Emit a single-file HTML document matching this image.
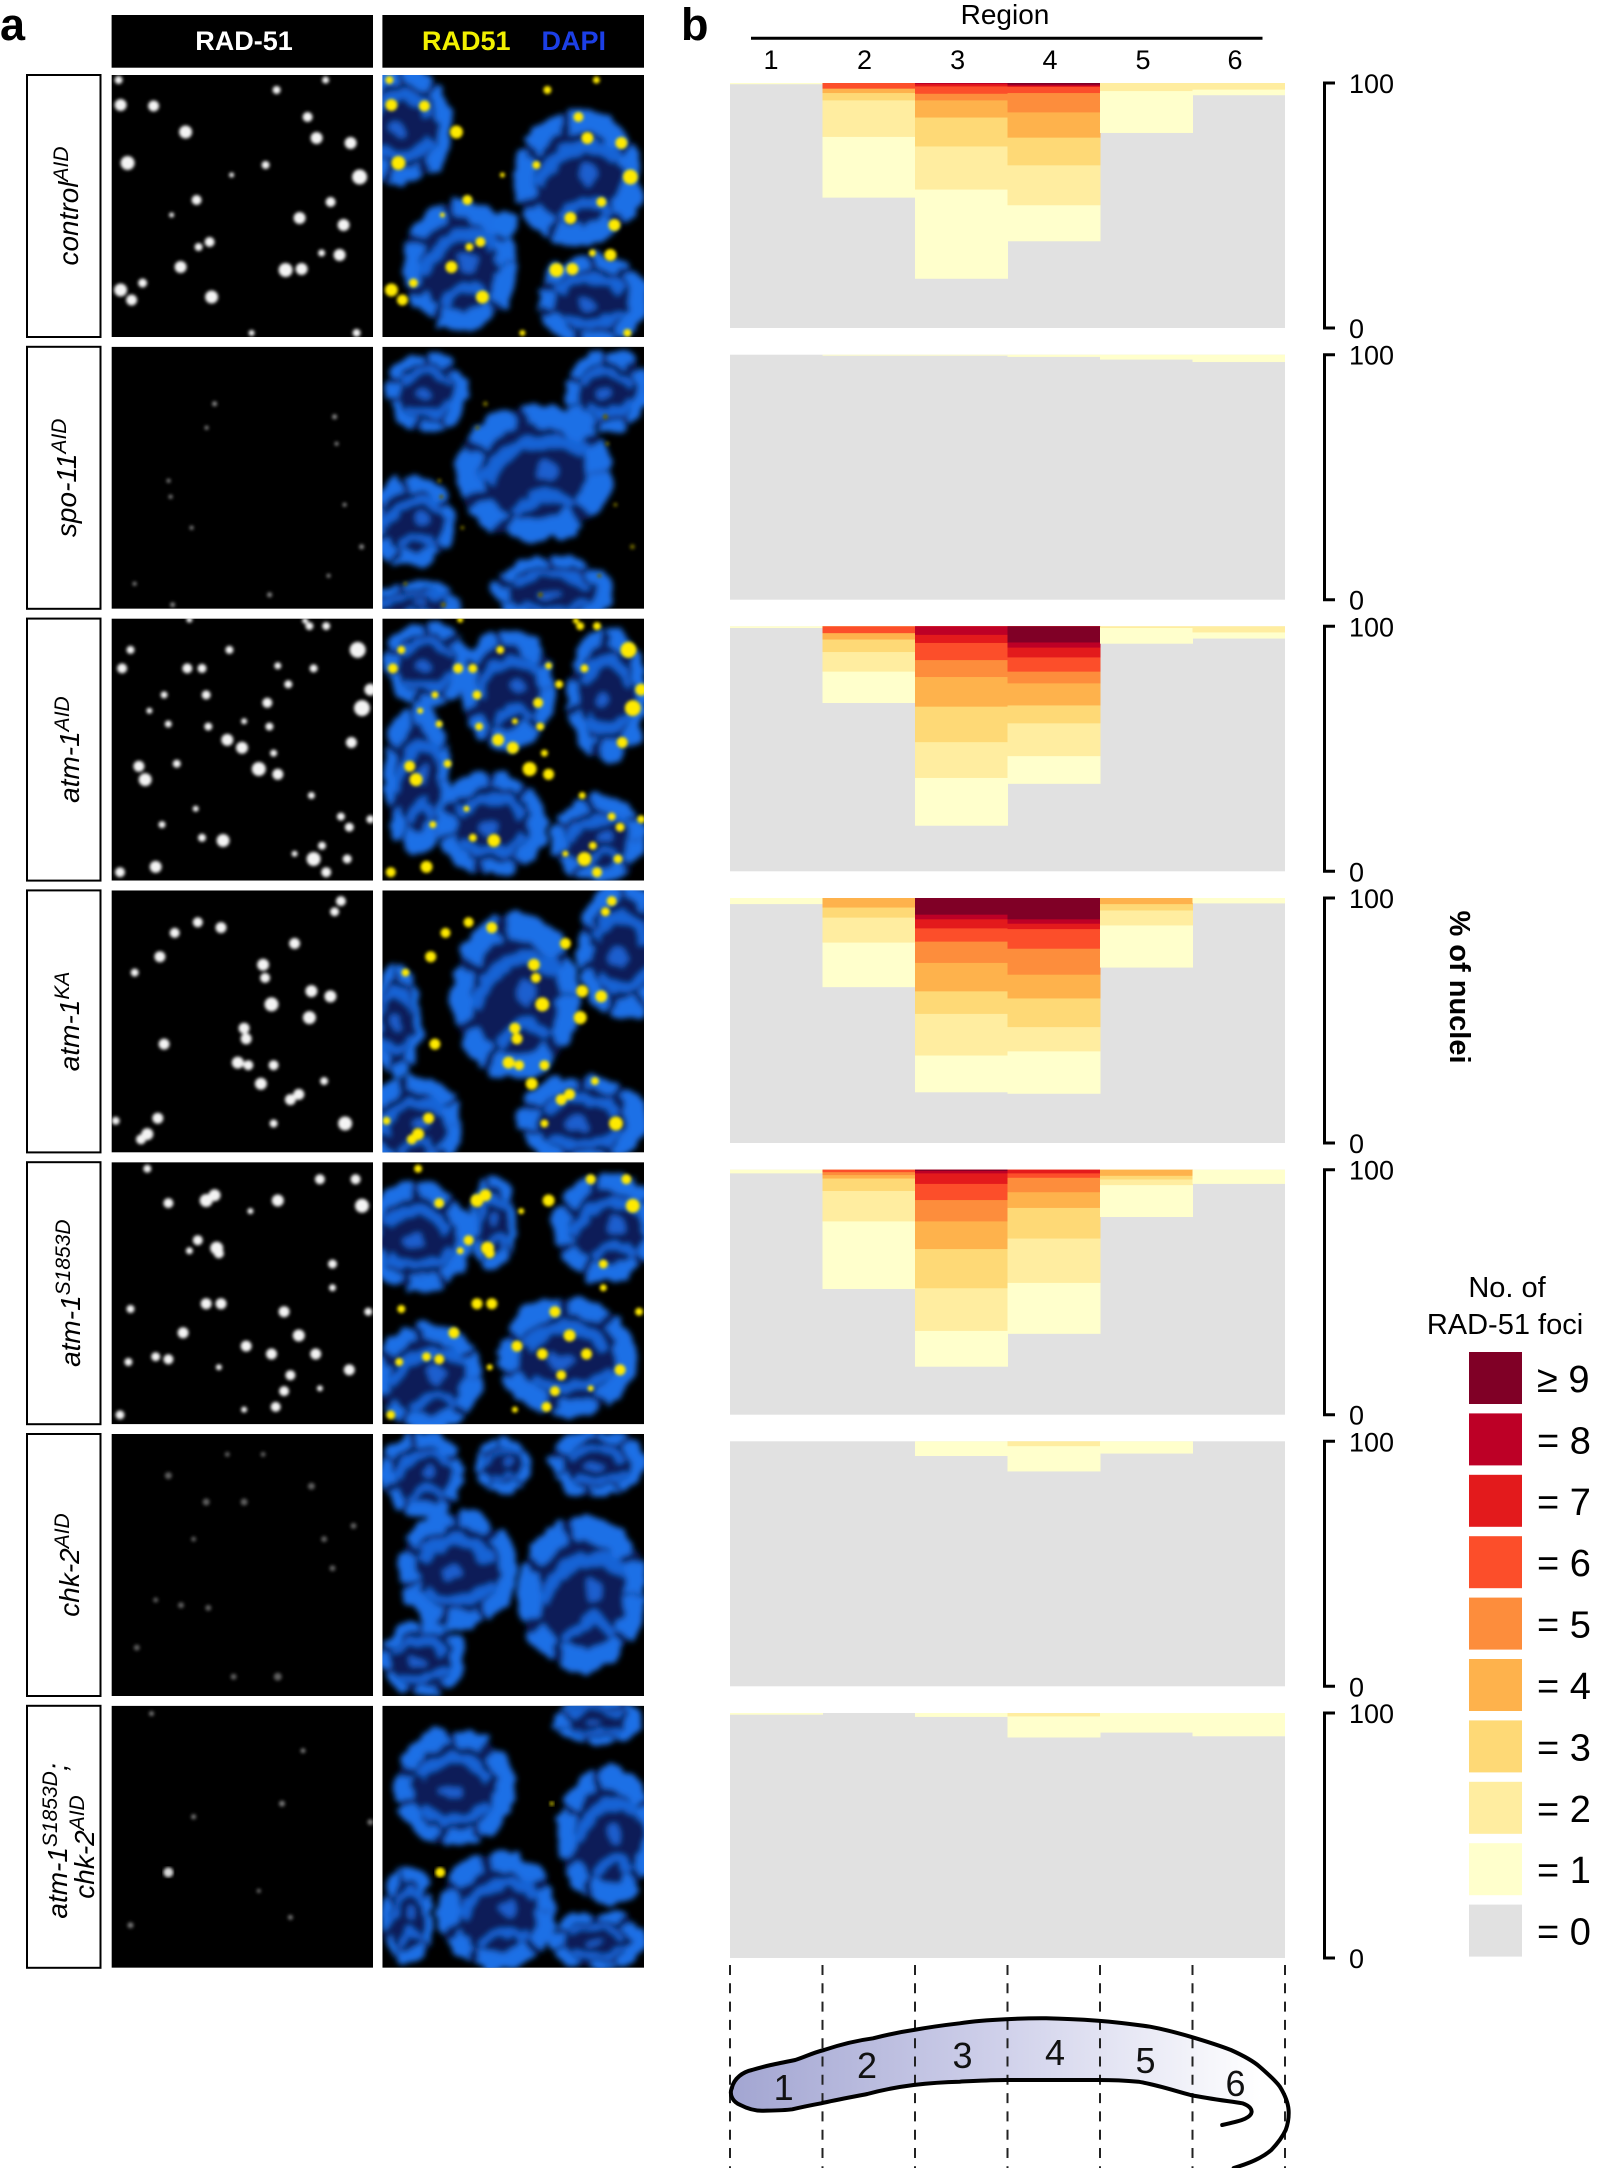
<!DOCTYPE html>
<html><head><meta charset="utf-8"><style>
html,body{margin:0;padding:0;background:#fff}
svg{display:block}
.c0{fill:#e1e1e1}.c1{fill:#ffffcc}.c2{fill:#ffeda0}.c3{fill:#fed976}.c4{fill:#feb24c}.c5{fill:#fd8d3c}.c6{fill:#fc4e2a}.c7{fill:#e31a1c}.c8{fill:#bd0026}.c9{fill:#800026}
text{font-family:"Liberation Sans",Arial,sans-serif}
.lab{font-style:italic;font-size:28px}
.ax{font-size:27px}
</style></head><body>
<svg width="1600" height="2168" viewBox="0 0 1600 2168" xmlns="http://www.w3.org/2000/svg">
<defs>
<filter id="fb" x="-20%" y="-20%" width="140%" height="140%">
<feTurbulence type="fractalNoise" baseFrequency="0.06" numOctaves="2" seed="3" result="n"/>
<feDisplacementMap in="SourceGraphic" in2="n" scale="14" xChannelSelector="R" yChannelSelector="G" result="d"/>
<feGaussianBlur in="d" stdDeviation="3"/>
</filter>
<filter id="fd" x="-10%" y="-10%" width="120%" height="120%"><feGaussianBlur stdDeviation="1.5"/></filter>
<linearGradient id="wg" gradientUnits="userSpaceOnUse" x1="735" y1="0" x2="1262" y2="0"><stop offset="0" stop-color="#a3a6d2"/><stop offset="0.5" stop-color="#cfd0ea"/><stop offset="1" stop-color="#ffffff"/></linearGradient>
<g id="nA">
<ellipse rx="46" ry="46" fill="#071f58"/>
<ellipse rx="41" ry="41" fill="none" stroke="#1f70e6" stroke-width="14" stroke-dasharray="40 6 26 8 34 5 20 9"/>
<path d="M-28,-8 C-14,-30 14,-28 26,-6" fill="none" stroke="#1963d6" stroke-width="9"/>
<path d="M-24,18 C-6,32 18,24 28,12" fill="none" stroke="#1963d6" stroke-width="8"/>
<ellipse cx="-4" cy="4" rx="9" ry="6" fill="#1a5fcf"/>
</g>
<g id="nB">
<ellipse rx="46" ry="46" fill="#071f58"/>
<ellipse rx="40" ry="40" fill="none" stroke="#1f70e6" stroke-width="15" stroke-dasharray="28 7 44 6 18 8 30 6"/>
<path d="M-30,6 C-20,-20 10,-30 30,-14" fill="none" stroke="#1963d6" stroke-width="9"/>
<path d="M-12,28 C4,10 16,14 22,24" fill="none" stroke="#1963d6" stroke-width="7"/>
<circle cx="8" cy="-2" r="7" fill="#1a5fcf"/>
</g>
<g id="d1">
<circle cx="9" cy="30" r="6"/><circle cx="42" cy="31" r="5.5"/><circle cx="74" cy="57" r="6.5"/><circle cx="16" cy="88" r="7"/><circle cx="7" cy="5" r="4"/><circle cx="214" cy="5" r="3.5"/><circle cx="196" cy="42" r="5"/><circle cx="205" cy="63" r="6"/><circle cx="239" cy="68" r="6"/><circle cx="165" cy="15" r="4"/><circle cx="154" cy="90" r="4"/><circle cx="248" cy="102" r="7.5"/><circle cx="85" cy="125" r="5"/><circle cx="219" cy="127" r="5"/><circle cx="188" cy="143" r="6"/><circle cx="232" cy="150" r="6"/><circle cx="98" cy="167" r="5"/><circle cx="87" cy="172" r="4"/><circle cx="69" cy="192" r="6"/><circle cx="228" cy="180" r="6"/><circle cx="174" cy="195" r="7"/><circle cx="190" cy="194" r="6"/><circle cx="9" cy="215" r="6.5"/><circle cx="20" cy="225" r="5.5"/><circle cx="31" cy="208" r="4.5"/><circle cx="100" cy="222" r="6.5"/><circle cx="245" cy="258" r="4"/><circle cx="210" cy="178" r="3.5"/><circle cx="140" cy="258" r="3"/><circle cx="120" cy="100" r="2.5"/><circle cx="60" cy="140" r="2.5"/>
</g>
<g id="d2">
<circle cx="103" cy="57" r="2.5"/><circle cx="95" cy="81" r="2"/><circle cx="223" cy="70" r="2.5"/><circle cx="225" cy="97" r="2"/><circle cx="57" cy="134" r="2"/><circle cx="59" cy="150" r="2"/><circle cx="80" cy="181" r="2"/><circle cx="233" cy="158" r="2"/><circle cx="250" cy="200" r="2.5"/><circle cx="217" cy="229" r="2"/><circle cx="158" cy="248" r="2.5"/><circle cx="23" cy="237" r="2"/><circle cx="61" cy="258" r="2.5"/>
</g>
<g id="d3">
<circle cx="10.5" cy="49.8" r="5"/><circle cx="18.9" cy="31.3" r="4"/><circle cx="75.7" cy="49.8" r="5"/><circle cx="90.4" cy="49.8" r="4.5"/><circle cx="117.8" cy="31.3" r="4"/><circle cx="94.6" cy="76.3" r="4.5"/><circle cx="155.7" cy="84.2" r="5"/><circle cx="176.7" cy="65.7" r="4"/><circle cx="166.2" cy="47.2" r="3.5"/><circle cx="115.7" cy="121.3" r="6"/><circle cx="130.4" cy="129.2" r="6"/><circle cx="147.2" cy="150.4" r="7"/><circle cx="166.2" cy="155.7" r="5.5"/><circle cx="157.8" cy="108" r="4"/><circle cx="162" cy="134.5" r="3.5"/><circle cx="27.3" cy="147.7" r="5.5"/><circle cx="33.6" cy="161" r="6.5"/><circle cx="65.2" cy="145.1" r="4"/><circle cx="56.7" cy="105.4" r="3.5"/><circle cx="37.8" cy="92.2" r="3"/><circle cx="52.5" cy="76.3" r="3.5"/><circle cx="96.7" cy="108" r="4"/><circle cx="132.5" cy="102.7" r="3"/><circle cx="202" cy="49.8" r="4"/><circle cx="197.8" cy="7.5" r="4"/><circle cx="214.6" cy="7.5" r="4"/><circle cx="246.1" cy="31.3" r="8"/><circle cx="250.4" cy="89.5" r="8"/><circle cx="258.8" cy="71" r="6"/><circle cx="239.8" cy="123.9" r="5.5"/><circle cx="199.8" cy="176.9" r="3.5"/><circle cx="229.3" cy="198" r="4"/><circle cx="237.7" cy="208.6" r="4.5"/><circle cx="210.4" cy="227.1" r="4"/><circle cx="202" cy="240.4" r="7"/><circle cx="235.6" cy="240.4" r="4.5"/><circle cx="214.6" cy="253.6" r="5"/><circle cx="111.5" cy="221.9" r="6.5"/><circle cx="90.4" cy="219.2" r="4"/><circle cx="44.1" cy="248.3" r="6"/><circle cx="8.4" cy="253.6" r="5"/><circle cx="50.4" cy="206" r="3.5"/><circle cx="84.1" cy="190.1" r="3"/><circle cx="183" cy="235.1" r="3"/><circle cx="258.8" cy="200.7" r="4"/><circle cx="193.5" cy="2.2" r="3"/><circle cx="77.8" cy="1" r="3"/>
</g>
<g id="d4">
<circle cx="86.2" cy="31.9" r="5"/><circle cx="109.4" cy="37.2" r="5.5"/><circle cx="63.1" cy="42.5" r="5"/><circle cx="48.3" cy="66.3" r="5.5"/><circle cx="23.1" cy="82.2" r="4"/><circle cx="183" cy="53.1" r="5.5"/><circle cx="229.3" cy="10.7" r="5"/><circle cx="223" cy="21.3" r="4.5"/><circle cx="151.5" cy="74.3" r="6"/><circle cx="153.5" cy="87.5" r="5"/><circle cx="199.8" cy="100.7" r="6"/><circle cx="218.8" cy="106" r="6"/><circle cx="159.9" cy="114" r="7"/><circle cx="197.8" cy="127.2" r="6.5"/><circle cx="132.5" cy="137.8" r="5.5"/><circle cx="134.6" cy="148.4" r="5.5"/><circle cx="52.5" cy="153.7" r="5.5"/><circle cx="126.2" cy="172.2" r="6"/><circle cx="136.7" cy="174.8" r="5"/><circle cx="162" cy="174.8" r="5"/><circle cx="149.3" cy="193.4" r="6"/><circle cx="178.8" cy="209.2" r="5.5"/><circle cx="187.2" cy="204" r="5.5"/><circle cx="212.5" cy="190.7" r="4"/><circle cx="233.5" cy="233.1" r="7"/><circle cx="35.7" cy="243.7" r="6"/><circle cx="46.2" cy="227.8" r="5.5"/><circle cx="29.4" cy="249" r="5"/><circle cx="4.1" cy="230.4" r="4"/><circle cx="162" cy="233.1" r="4"/>
</g>
<g id="d5">
<circle cx="35.7" cy="6.5" r="4"/><circle cx="56.8" cy="40.9" r="5"/><circle cx="94.6" cy="38.3" r="6.5"/><circle cx="103" cy="33" r="6"/><circle cx="166.2" cy="38.3" r="6"/><circle cx="208.3" cy="17.1" r="5"/><circle cx="244" cy="17.1" r="5"/><circle cx="250.4" cy="43.6" r="7"/><circle cx="86.2" cy="78" r="5"/><circle cx="105.1" cy="85.9" r="6.5"/><circle cx="107.3" cy="91.2" r="5"/><circle cx="77.8" cy="88.6" r="3.5"/><circle cx="138.8" cy="48.9" r="3"/><circle cx="220.9" cy="101.8" r="4.5"/><circle cx="220.9" cy="125.6" r="3.5"/><circle cx="18.9" cy="146.8" r="4"/><circle cx="94.6" cy="141.5" r="5.5"/><circle cx="109.4" cy="141.5" r="5.5"/><circle cx="172.5" cy="149.5" r="5.5"/><circle cx="187.2" cy="173.3" r="6"/><circle cx="71.5" cy="170.6" r="5.5"/><circle cx="134.6" cy="183.9" r="5.5"/><circle cx="159.9" cy="191.8" r="5.5"/><circle cx="204.1" cy="191.8" r="5.5"/><circle cx="237.7" cy="207.7" r="5.5"/><circle cx="178.8" cy="213" r="5"/><circle cx="172.5" cy="228.9" r="5"/><circle cx="164.1" cy="244.7" r="5"/><circle cx="44.1" cy="194.5" r="4.5"/><circle cx="56.8" cy="197.1" r="5"/><circle cx="16.8" cy="199.8" r="4"/><circle cx="8.4" cy="252.7" r="4.5"/><circle cx="107.3" cy="205" r="3"/><circle cx="132.5" cy="247.4" r="3"/><circle cx="256.7" cy="149.5" r="4"/><circle cx="208.3" cy="226.2" r="3"/>
</g>
<g id="d6">
<circle cx="56.8" cy="41.6" r="3.5"/><circle cx="94.6" cy="68" r="3.5"/><circle cx="132.5" cy="68" r="3.5"/><circle cx="199.8" cy="52.2" r="3.5"/><circle cx="212.5" cy="105.1" r="3"/><circle cx="69.4" cy="171.3" r="3"/><circle cx="96.7" cy="173.9" r="3"/><circle cx="166.2" cy="242.7" r="4"/><circle cx="122" cy="242.7" r="3"/><circle cx="25.2" cy="213.6" r="3"/><circle cx="82" cy="105.1" r="2.5"/><circle cx="220.9" cy="134.2" r="3"/><circle cx="241.9" cy="91.9" r="3"/><circle cx="44.1" cy="166" r="2.5"/><circle cx="115.7" cy="20.4" r="2.5"/><circle cx="151.5" cy="20.4" r="2.5"/>
</g>
<g id="d7">
<circle cx="18.9" cy="219.5" r="3"/><circle cx="170.4" cy="97.8" r="3"/><circle cx="82" cy="111" r="2.5"/><circle cx="191.4" cy="44.9" r="2.5"/><circle cx="178.8" cy="211.6" r="2.5"/><circle cx="258.8" cy="116.3" r="3"/><circle cx="147.2" cy="185.1" r="2"/><circle cx="39.9" cy="7.8" r="2.5"/>
</g>
</defs>

<!-- panel labels -->
<text x="0" y="40" font-size="45" font-weight="bold">a</text>
<text x="681" y="40" font-size="45" font-weight="bold">b</text>

<!-- header bars -->
<rect x="111.6" y="15" width="261.4" height="52.7" fill="#000"/>
<rect x="382.4" y="15" width="261.6" height="52.7" fill="#000"/>
<text x="244" y="50" font-size="27" font-weight="bold" fill="#fff" text-anchor="middle">RAD-51</text>
<text x="422" y="50" font-size="27" font-weight="bold" fill="#f2f000">RAD51</text>
<text x="541.5" y="50" font-size="27" font-weight="bold" fill="#1c3fe6">DAPI</text>

<!-- label boxes -->
<g fill="#fff" stroke="#000" stroke-width="2">
<rect x="27" y="75" width="73.5" height="262"/>
<rect x="27" y="346.8" width="73.5" height="262"/>
<rect x="27" y="618.6" width="73.5" height="262"/>
<rect x="27" y="890.4" width="73.5" height="262"/>
<rect x="27" y="1162.2" width="73.5" height="262"/>
<rect x="27" y="1434" width="73.5" height="262"/>
<rect x="27" y="1705.8" width="73.5" height="262"/>
</g>
<g class="lab">
<text class="lab" transform="translate(78,206) rotate(-90)" text-anchor="middle">control<tspan font-size="21" dy="-10">AID</tspan></text>
<text class="lab" transform="translate(76,477.8) rotate(-90)" text-anchor="middle">spo-11<tspan font-size="21" dy="-10">AID</tspan></text>
<text class="lab" transform="translate(79,749.6) rotate(-90)" text-anchor="middle">atm-1<tspan font-size="21" dy="-10">AID</tspan></text>
<text class="lab" transform="translate(79,1021.4) rotate(-90)" text-anchor="middle">atm-1<tspan font-size="21" dy="-10">KA</tspan></text>
<text class="lab" transform="translate(80,1293.2) rotate(-90)" text-anchor="middle">atm-1<tspan font-size="21" dy="-10">S1853D</tspan></text>
<text class="lab" transform="translate(79,1565) rotate(-90)" text-anchor="middle">chk-2<tspan font-size="21" dy="-10">AID</tspan></text>
<text class="lab" transform="translate(67,1841) rotate(-90)" text-anchor="middle">atm-1<tspan font-size="21" dy="-10">S1853D</tspan><tspan dy="10">;</tspan></text>
<text class="lab" transform="translate(94,1847) rotate(-90)" text-anchor="middle">chk-2<tspan font-size="21" dy="-10">AID</tspan></text>
</g>

<!-- Row 1 control -->
<svg x="111.6" y="75" width="261.4" height="262"><rect width="100%" height="100%" fill="#000"/><use href="#d1" fill="#f4f4f4" filter="url(#fd)"/></svg>
<svg x="382.4" y="75" width="261.6" height="262"><rect width="100%" height="100%" fill="#000"/>
<g filter="url(#fb)">
<use href="#nA" transform="translate(20,50) scale(1.05,1.25)"/>
<use href="#nB" transform="translate(195,103) scale(1.35,1.45)"/>
<use href="#nB" transform="translate(77,190) scale(1.2,1.4)"/>
<use href="#nA" transform="translate(210,225) scale(1.15,0.95)"/>
<ellipse cx="122" cy="148" rx="14" ry="12" fill="#1e72e8"/>
</g>
<use href="#d1" fill="#ffea00" filter="url(#fd)"/></svg>

<!-- Row 2 spo-11 -->
<svg x="111.6" y="346.8" width="261.4" height="262"><rect width="100%" height="100%" fill="#000"/><use href="#d2" fill="#8a8a8a" filter="url(#fd)"/></svg>
<svg x="382.4" y="346.8" width="261.6" height="262"><rect width="100%" height="100%" fill="#000"/>
<g filter="url(#fb)">
<use href="#nA" transform="translate(45,45) scale(0.85,0.85)"/>
<use href="#nB" transform="translate(152,126) scale(1.65,1.45)"/>
<use href="#nA" transform="translate(225,45) scale(0.9,0.85)"/>
<use href="#nB" transform="translate(30,175) scale(0.95,0.95)"/>
<use href="#nA" transform="translate(170,245) scale(1.25,0.75)"/>
<use href="#nB" transform="translate(30,258) scale(1,0.5)"/>
</g>
<use href="#d2" fill="#6b6400" filter="url(#fd)"/></svg>

<!-- Row 3 atm-1 AID -->
<svg x="111.6" y="618.6" width="261.4" height="262"><rect width="100%" height="100%" fill="#000"/><use href="#d3" fill="#f4f4f4" filter="url(#fd)"/></svg>
<svg x="382.4" y="618.6" width="261.6" height="262"><rect width="100%" height="100%" fill="#000"/>
<g filter="url(#fb)">
<use href="#nA" transform="translate(45,45) scale(0.9,0.9)"/>
<use href="#nB" transform="translate(125,70) scale(1.0,1.3)"/>
<use href="#nA" transform="translate(225,75) scale(0.85,1.4)"/>
<use href="#nB" transform="translate(35,160) scale(0.7,1.6)"/>
<use href="#nA" transform="translate(110,205) scale(1.15,1.1)"/>
<use href="#nB" transform="translate(215,220) scale(1.0,0.9)"/>
</g>
<use href="#d3" fill="#ffea00" filter="url(#fd)"/></svg>

<!-- Row 4 atm-1 KA -->
<svg x="111.6" y="890.4" width="261.4" height="262"><rect width="100%" height="100%" fill="#000"/><use href="#d4" fill="#f4f4f4" filter="url(#fd)"/></svg>
<svg x="382.4" y="890.4" width="261.6" height="262"><rect width="100%" height="100%" fill="#000"/>
<g filter="url(#fb)">
<use href="#nB" transform="translate(133,106) scale(1.35,1.75)"/>
<use href="#nA" transform="translate(240,60) scale(0.95,1.45)"/>
<use href="#nB" transform="translate(30,235) scale(1.05,1.05)"/>
<use href="#nA" transform="translate(200,230) scale(1.35,0.95)"/>
<use href="#nA" transform="translate(15,130) scale(0.5,1.2)"/>
</g>
<use href="#d4" fill="#ffea00" filter="url(#fd)"/></svg>

<!-- Row 5 atm-1 S1853D -->
<svg x="111.6" y="1162.2" width="261.4" height="262"><rect width="100%" height="100%" fill="#000"/><use href="#d5" fill="#f4f4f4" filter="url(#fd)"/></svg>
<svg x="382.4" y="1162.2" width="261.6" height="262"><rect width="100%" height="100%" fill="#000"/>
<g filter="url(#fb)">
<use href="#nA" transform="translate(35,75) scale(1.15,1.15)"/>
<use href="#nB" transform="translate(225,65) scale(1.15,1.15)"/>
<use href="#nA" transform="translate(185,195) scale(1.45,1.25)"/>
<use href="#nB" transform="translate(45,215) scale(1.15,1.15)"/>
<use href="#nB" transform="translate(110,60) scale(0.5,1.0)"/>
</g>
<use href="#d5" fill="#ffea00" filter="url(#fd)"/></svg>

<!-- Row 6 chk-2 -->
<svg x="111.6" y="1434" width="261.4" height="262"><rect width="100%" height="100%" fill="#000"/><use href="#d6" fill="#5e5e5e" filter="url(#fd)"/></svg>
<svg x="382.4" y="1434" width="261.6" height="262"><rect width="100%" height="100%" fill="#000"/>
<g filter="url(#fb)">
<use href="#nB" transform="translate(40,40) scale(0.9,0.9)"/>
<use href="#nA" transform="translate(75,135) scale(1.25,1.25)"/>
<use href="#nB" transform="translate(200,160) scale(1.35,1.65)"/>
<use href="#nA" transform="translate(40,225) scale(0.9,0.8)"/>
<use href="#nA" transform="translate(215,30) scale(1.0,0.7)"/>
<use href="#nB" transform="translate(120,30) scale(0.6,0.6)"/>
</g>
</svg>

<!-- Row 7 double -->
<svg x="111.6" y="1705.8" width="261.4" height="262"><rect width="100%" height="100%" fill="#000"/><use href="#d7" fill="#777" filter="url(#fd)"/><circle cx="56.8" cy="166.6" r="5" fill="#d8d8d8" filter="url(#fd)"/></svg>
<svg x="382.4" y="1705.8" width="261.6" height="262"><rect width="100%" height="100%" fill="#000"/>
<g filter="url(#fb)">
<use href="#nA" transform="translate(72,82) scale(1.25,1.25)"/>
<use href="#nB" transform="translate(225,130) scale(1.05,1.45)"/>
<use href="#nA" transform="translate(215,15) scale(0.9,0.5)"/>
<use href="#nB" transform="translate(25,210) scale(0.55,1.05)"/>
<use href="#nB" transform="translate(115,205) scale(1.25,1.25)"/>
<use href="#nA" transform="translate(215,235) scale(1.0,0.6)"/>
</g>
<circle cx="57.8" cy="166.6" r="5" fill="#ffea00" filter="url(#fd)"/><circle cx="169.4" cy="97.8" r="2.5" fill="#a09a00" filter="url(#fd)"/></svg>

<!-- Region header -->
<text x="1005" y="24" font-size="28" text-anchor="middle">Region</text>
<line x1="751" y1="38.3" x2="1262.5" y2="38.3" stroke="#000" stroke-width="3"/>
<g class="ax" text-anchor="middle" font-size="27">
<text x="771" y="69" font-size="27">1</text><text x="864.5" y="69" font-size="27">2</text><text x="957.7" y="69" font-size="27">3</text><text x="1050" y="69" font-size="27">4</text><text x="1143" y="69" font-size="27">5</text><text x="1235" y="69" font-size="27">6</text>
</g>

<!-- Chart 1 -->
<g transform="translate(730,83) scale(1,2.45)">
<rect class="c0" width="555" height="100"/>
<rect class="c1" x="0" width="93" height="0.5"/>
<rect class="c1" x="92.5" width="93" height="46.8"/><rect class="c2" x="92.5" width="93" height="22"/><rect class="c3" x="92.5" width="93" height="7.1"/><rect class="c4" x="92.5" width="93" height="4.1"/><rect class="c6" x="92.5" width="93" height="2.3"/>
<rect class="c1" x="185" width="93" height="79.9"/><rect class="c2" x="185" width="93" height="43.5"/><rect class="c3" x="185" width="93" height="25.9"/><rect class="c4" x="185" width="93" height="14.1"/><rect class="c5" x="185" width="93" height="7.1"/><rect class="c6" x="185" width="93" height="4.4"/><rect class="c7" x="185" width="93" height="1.4"/><rect class="c8" x="185" width="93" height="0.5"/>
<rect class="c1" x="277.5" width="93" height="64.6"/><rect class="c2" x="277.5" width="93" height="49.9"/><rect class="c3" x="277.5" width="93" height="33.6"/><rect class="c4" x="277.5" width="93" height="22.3"/><rect class="c5" x="277.5" width="93" height="12"/><rect class="c6" x="277.5" width="93" height="4.1"/><rect class="c7" x="277.5" width="93" height="1.6"/><rect class="c8" x="277.5" width="93" height="1.2"/><rect class="c9" x="277.5" width="93" height="0.7"/>
<rect class="c1" x="370" width="93" height="20.4"/><rect class="c2" x="370" width="93" height="3.3"/>
<rect class="c1" x="462.5" width="92.5" height="5"/><rect class="c2" x="462.5" width="92.5" height="2.7"/>
</g>
<!-- Chart 2 -->
<g transform="translate(730,354.7) scale(1,2.45)">
<rect class="c0" width="555" height="100"/>
<rect class="c1" x="92.5" width="93" height="0.4"/><rect class="c1" x="185" width="93" height="0.4"/><rect class="c1" x="277.5" width="93" height="0.9"/><rect class="c1" x="370" width="93" height="2"/><rect class="c1" x="462.5" width="92.5" height="3"/>
</g>
<!-- Chart 3 -->
<g transform="translate(730,626.3) scale(1,2.45)">
<rect class="c0" width="555" height="100"/>
<rect class="c1" x="0" width="93" height="0.7"/>
<rect class="c1" x="92.5" width="93" height="31.3"/><rect class="c2" x="92.5" width="93" height="18.5"/><rect class="c3" x="92.5" width="93" height="10.5"/><rect class="c4" x="92.5" width="93" height="5.4"/><rect class="c6" x="92.5" width="93" height="2.8"/>
<rect class="c1" x="185" width="93" height="81.4"/><rect class="c2" x="185" width="93" height="61.9"/><rect class="c3" x="185" width="93" height="47.3"/><rect class="c4" x="185" width="93" height="32.8"/><rect class="c5" x="185" width="93" height="20.7"/><rect class="c6" x="185" width="93" height="13.8"/><rect class="c7" x="185" width="93" height="6.8"/><rect class="c8" x="185" width="93" height="3.5"/>
<rect class="c1" x="277.5" width="93" height="64.3"/><rect class="c2" x="277.5" width="93" height="53"/><rect class="c3" x="277.5" width="93" height="39.6"/><rect class="c4" x="277.5" width="93" height="32.3"/><rect class="c5" x="277.5" width="93" height="23.3"/><rect class="c6" x="277.5" width="93" height="18.5"/><rect class="c7" x="277.5" width="93" height="12.7"/><rect class="c8" x="277.5" width="93" height="8.7"/><rect class="c9" x="277.5" width="93" height="6.6"/>
<rect class="c1" x="370" width="93" height="7.1"/><rect class="c2" x="370" width="93" height="0.7"/>
<rect class="c1" x="462.5" width="92.5" height="5"/><rect class="c2" x="462.5" width="92.5" height="2.5"/>
</g>
<!-- Chart 4 -->
<g transform="translate(730,898) scale(1,2.45)">
<rect class="c0" width="555" height="100"/>
<rect class="c1" x="0" width="93" height="2.5"/>
<rect class="c1" x="92.5" width="93" height="36.4"/><rect class="c2" x="92.5" width="93" height="18.2"/><rect class="c3" x="92.5" width="93" height="8"/><rect class="c4" x="92.5" width="93" height="3.9"/>
<rect class="c1" x="185" width="93" height="79.3"/><rect class="c2" x="185" width="93" height="64.3"/><rect class="c3" x="185" width="93" height="47.3"/><rect class="c4" x="185" width="93" height="38.1"/><rect class="c5" x="185" width="93" height="26.5"/><rect class="c6" x="185" width="93" height="17.8"/><rect class="c7" x="185" width="93" height="12.4"/><rect class="c8" x="185" width="93" height="8.7"/><rect class="c9" x="185" width="93" height="6.8"/>
<rect class="c1" x="277.5" width="93" height="79.9"/><rect class="c2" x="277.5" width="93" height="62.6"/><rect class="c3" x="277.5" width="93" height="52.7"/><rect class="c4" x="277.5" width="93" height="41"/><rect class="c5" x="277.5" width="93" height="31.3"/><rect class="c6" x="277.5" width="93" height="20.7"/><rect class="c7" x="277.5" width="93" height="12.7"/><rect class="c8" x="277.5" width="93" height="10.5"/><rect class="c9" x="277.5" width="93" height="8.7"/>
<rect class="c1" x="370" width="93" height="28.4"/><rect class="c2" x="370" width="93" height="11.2"/><rect class="c3" x="370" width="93" height="5.1"/><rect class="c4" x="370" width="93" height="2.5"/>
<rect class="c1" x="462.5" width="92.5" height="2.2"/>
</g>
<!-- Chart 5 -->
<g transform="translate(730,1169.7) scale(1,2.45)">
<rect class="c0" width="555" height="100"/>
<rect class="c1" x="0" width="93" height="1.5"/>
<rect class="c1" x="92.5" width="93" height="48.7"/><rect class="c2" x="92.5" width="93" height="21.1"/><rect class="c3" x="92.5" width="93" height="8.7"/><rect class="c4" x="92.5" width="93" height="3.6"/><rect class="c5" x="92.5" width="93" height="2.2"/><rect class="c6" x="92.5" width="93" height="1"/>
<rect class="c1" x="185" width="93" height="80.4"/><rect class="c2" x="185" width="93" height="65.8"/><rect class="c3" x="185" width="93" height="48.4"/><rect class="c4" x="185" width="93" height="32.4"/><rect class="c5" x="185" width="93" height="21.1"/><rect class="c6" x="185" width="93" height="12.4"/><rect class="c7" x="185" width="93" height="5.8"/><rect class="c8" x="185" width="93" height="1.5"/><rect class="c9" x="185" width="93" height="0.5"/>
<rect class="c1" x="277.5" width="93" height="67"/><rect class="c2" x="277.5" width="93" height="46.2"/><rect class="c3" x="277.5" width="93" height="28.1"/><rect class="c4" x="277.5" width="93" height="15.6"/><rect class="c5" x="277.5" width="93" height="9.2"/><rect class="c6" x="277.5" width="93" height="3.3"/><rect class="c7" x="277.5" width="93" height="1.5"/>
<rect class="c1" x="370" width="93" height="19.3"/><rect class="c2" x="370" width="93" height="6.3"/><rect class="c3" x="370" width="93" height="4"/><rect class="c4" x="370" width="93" height="2.5"/>
<rect class="c1" x="462.5" width="92.5" height="5.8"/>
</g>
<!-- Chart 6 -->
<g transform="translate(730,1441.3) scale(1,2.45)">
<rect class="c0" width="555" height="100"/>
<rect class="c1" x="185" width="93" height="6"/>
<rect class="c1" x="277.5" width="93" height="12.3"/><rect class="c2" x="277.5" width="93" height="2"/>
<rect class="c1" x="370" width="93" height="5"/>
</g>
<!-- Chart 7 -->
<g transform="translate(730,1713) scale(1,2.45)">
<rect class="c0" width="555" height="100"/>
<rect class="c1" x="0" width="93" height="0.7"/>
<rect class="c1" x="185" width="93" height="1.6"/>
<rect class="c1" x="277.5" width="93" height="10"/><rect class="c2" x="277.5" width="93" height="1.4"/>
<rect class="c1" x="370" width="93" height="8"/>
<rect class="c1" x="462.5" width="92.5" height="9.5"/>
</g>

<!-- Y axes -->
<g fill="none" stroke="#000" stroke-width="3">
<path d="M1335,83 H1324.5 V328 H1335"/>
<path d="M1335,354.7 H1324.5 V599.7 H1335"/>
<path d="M1335,626.3 H1324.5 V871.3 H1335"/>
<path d="M1335,898 H1324.5 V1143 H1335"/>
<path d="M1335,1169.7 H1324.5 V1414.7 H1335"/>
<path d="M1335,1441.3 H1324.5 V1686.3 H1335"/>
<path d="M1335,1713 H1324.5 V1958 H1335"/>
</g>
<g font-size="27">
<text x="1349" y="93" font-size="27">100</text><text x="1349" y="338" font-size="27">0</text>
<text x="1349" y="364.7" font-size="27">100</text><text x="1349" y="609.7" font-size="27">0</text>
<text x="1349" y="636.3" font-size="27">100</text><text x="1349" y="881.3" font-size="27">0</text>
<text x="1349" y="908" font-size="27">100</text><text x="1349" y="1153" font-size="27">0</text>
<text x="1349" y="1179.7" font-size="27">100</text><text x="1349" y="1424.7" font-size="27">0</text>
<text x="1349" y="1451.3" font-size="27">100</text><text x="1349" y="1696.3" font-size="27">0</text>
<text x="1349" y="1723" font-size="27">100</text><text x="1349" y="1968" font-size="27">0</text>
</g>
<text transform="translate(1450,987) rotate(90)" text-anchor="middle" font-size="29" font-weight="bold">% of nuclei</text>

<!-- Legend -->
<text x="1507" y="1297" font-size="29" text-anchor="middle">No. of</text>
<text x="1505" y="1334" font-size="29" text-anchor="middle">RAD-51 foci</text>
<rect class="c9" x="1469" y="1352" width="53" height="52"/>
<rect class="c8" x="1469" y="1413.4" width="53" height="52"/>
<rect class="c7" x="1469" y="1474.8" width="53" height="52"/>
<rect class="c6" x="1469" y="1536.2" width="53" height="52"/>
<rect class="c5" x="1469" y="1597.6" width="53" height="52"/>
<rect class="c4" x="1469" y="1659" width="53" height="52"/>
<rect class="c3" x="1469" y="1720.4" width="53" height="52"/>
<rect class="c2" x="1469" y="1781.8" width="53" height="52"/>
<rect class="c1" x="1469" y="1843.2" width="53" height="52"/>
<rect class="c0" x="1469" y="1904.6" width="53" height="52"/>
<g font-size="38">
<text x="1537" y="1392" font-size="38">≥ 9</text>
<text x="1537" y="1453.4" font-size="38">= 8</text>
<text x="1537" y="1514.8" font-size="38">= 7</text>
<text x="1537" y="1576.2" font-size="38">= 6</text>
<text x="1537" y="1637.6" font-size="38">= 5</text>
<text x="1537" y="1699" font-size="38">= 4</text>
<text x="1537" y="1760.4" font-size="38">= 3</text>
<text x="1537" y="1821.8" font-size="38">= 2</text>
<text x="1537" y="1883.2" font-size="38">= 1</text>
<text x="1537" y="1944.6" font-size="38">= 0</text>
</g>

<!-- Worm -->
<path d="M731.7,2088.3 L737,2080 L745,2074 L751.9,2070 L766,2065 L780.8,2062.7 L795.2,2060 L824,2050 L873.1,2038.3 L913.5,2030 L959.7,2023.3 L1005.8,2019.3 L1046.2,2018.3 L1098.2,2020.7 L1150.1,2026.7 L1190.5,2036.7 L1230.9,2050 L1259.7,2066.7 L1279.9,2086.7 L1251,2111.7 L1249,2106 L1242.4,2103.3 L1190.5,2095 L1138.5,2081.7 L1098.2,2080 L1005.8,2080 L959.7,2081.7 L913.5,2085 L867.3,2094 L821.2,2103.3 L792.3,2109.3 L763.5,2110.7 L750,2109 L740.4,2105 L732,2097 Z" fill="url(#wg)"/>
<g stroke="#222" stroke-width="2" stroke-dasharray="10 8.3">
<line x1="730" y1="1965" x2="730" y2="2168"/>
<line x1="822.5" y1="1965" x2="822.5" y2="2168"/>
<line x1="915" y1="1965" x2="915" y2="2168"/>
<line x1="1007.5" y1="1965" x2="1007.5" y2="2168"/>
<line x1="1100" y1="1965" x2="1100" y2="2168"/>
<line x1="1192.5" y1="1965" x2="1192.5" y2="2168"/>
<line x1="1285" y1="1965" x2="1285" y2="2168"/>
</g>
<g fill="none" stroke="#000" stroke-width="4" stroke-linejoin="round" stroke-linecap="round">
<path d="M731.7,2088.3 C734,2078 743,2072 751.9,2070 C765,2066 775,2064 795.2,2060 C805,2057 812,2053 824,2050 C845,2043 860,2040 873.1,2038.3 C890,2034 900,2032 913.5,2030 C930,2027 945,2025 959.7,2023.3 C975,2021 990,2020 1005.8,2019.3 C1020,2018.5 1035,2018.2 1046.2,2018.3 C1065,2018.7 1080,2019.5 1098.2,2020.7 C1115,2022 1135,2024.5 1150.1,2026.7 C1165,2029.5 1178,2033 1190.5,2036.7 C1205,2041 1218,2045 1230.9,2050 C1242,2055 1252,2060 1259.7,2066.7 C1268,2074 1275,2080 1279.9,2086.7 C1285,2095 1288,2102 1288.6,2110 C1289,2117 1288,2124 1285.7,2130 C1282,2138 1277,2144 1271.3,2150 C1262,2158 1250,2163 1233.7,2168"/>
<path d="M731.7,2088.3 C729,2095 733,2102 740.4,2105 C748,2109 756,2111 763.5,2110.7 C775,2110.5 783,2110.5 792.3,2109.3 C802,2107 812,2105 821.2,2103.3 C835,2100 852,2097 867.3,2094 C882,2090 898,2087 913.5,2085 C930,2083 945,2082 959.7,2081.7 C975,2081 990,2080 1005.8,2080 L1098.2,2080 C1112,2080 1125,2080.5 1138.5,2081.7 C1158,2085 1172,2090 1190.5,2095 C1210,2099 1228,2101 1242.4,2103.3 C1250,2106 1253,2110 1251,2114 C1248,2119 1240,2121 1222.2,2125"/>
</g>
<g font-size="36" fill="#111" text-anchor="middle">
<text x="783.7" y="2100" font-size="36">1</text>
<text x="867" y="2078" font-size="36">2</text>
<text x="962.5" y="2068" font-size="36">3</text>
<text x="1055" y="2065" font-size="36">4</text>
<text x="1145.5" y="2073" font-size="36">5</text>
<text x="1235.5" y="2096" font-size="36">6</text>
</g>
</svg>
</body></html>
